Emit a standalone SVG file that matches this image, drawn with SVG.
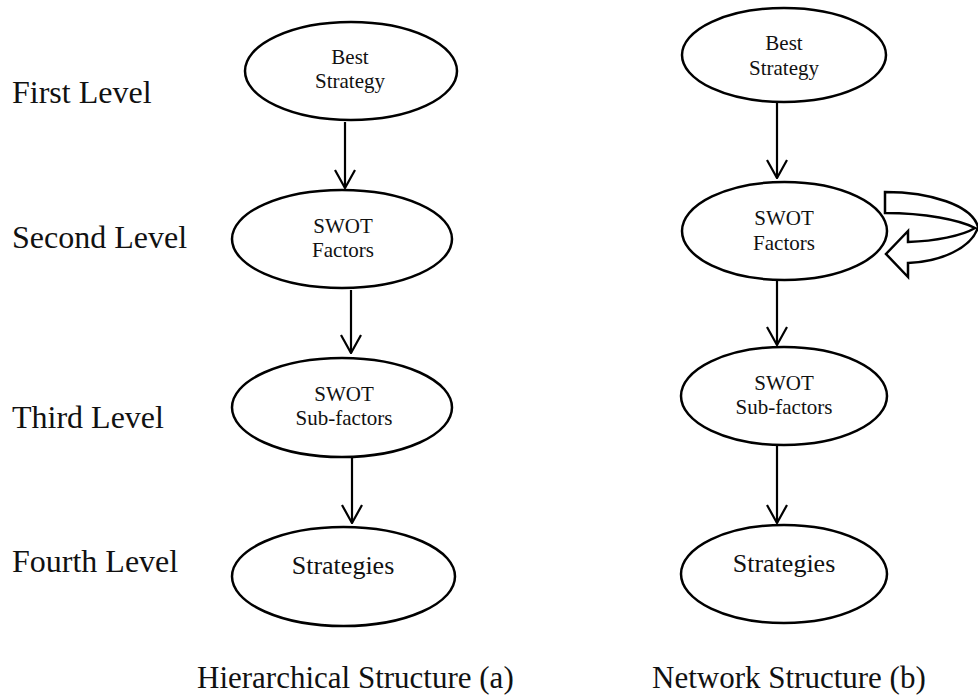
<svg xmlns="http://www.w3.org/2000/svg" width="978" height="698" viewBox="0 0 978 698">
  <defs>
    <marker id="open-head" viewBox="0 0 20 22" refX="19" refY="11" markerWidth="20" markerHeight="22" markerUnits="userSpaceOnUse" orient="auto">
      <path d="M1 1 L19 11 L1 21" fill="none" stroke="#000" stroke-width="2.2"/>
    </marker>
  </defs>
  <style>
    .node ellipse { fill: #fff; stroke: #000; stroke-width: 2.5; }
    .node text { font-family: "Liberation Serif", "Times New Roman", serif; font-size: 21px; text-anchor: middle; fill: #111; }
    .node text.big { font-size: 26px; }
    .level { font-family: "Liberation Serif", "Times New Roman", serif; font-size: 32px; fill: #111; }
    .title { font-family: "Liberation Serif", "Times New Roman", serif; font-size: 31px; fill: #111; }
    .edge { stroke: #000; stroke-width: 2.2; fill: none; marker-end: url(#open-head); }
    .loop { fill: #fff; stroke: #000; stroke-width: 2.5; stroke-linejoin: miter; }
  </style>

  <!-- level labels -->
  <g id="levels">
    <text class="level" x="12" y="103">First Level</text>
    <text class="level" x="12" y="248">Second Level</text>
    <text class="level" x="12" y="428">Third Level</text>
    <text class="level" x="12" y="572">Fourth Level</text>
  </g>

  <!-- hierarchical column -->
  <g id="h-best" class="node">
    <ellipse cx="351" cy="71" rx="106" ry="49"/>
    <text x="350" y="64">Best</text>
    <text x="350" y="88">Strategy</text>
  </g>
  <g id="h-factors" class="node">
    <ellipse cx="342" cy="239" rx="110" ry="49"/>
    <text x="343" y="233">SWOT</text>
    <text x="343" y="257">Factors</text>
  </g>
  <g id="h-subfactors" class="node">
    <ellipse cx="342" cy="407.5" rx="110" ry="49.5"/>
    <text x="344" y="401">SWOT</text>
    <text x="344" y="425">Sub-factors</text>
  </g>
  <g id="h-strategies" class="node">
    <ellipse cx="343.5" cy="576.5" rx="111.5" ry="49.5"/>
    <text class="big" x="343" y="574">Strategies</text>
  </g>

  <!-- network column -->
  <g id="n-best" class="node">
    <ellipse cx="784" cy="55" rx="102" ry="47"/>
    <text x="784" y="50">Best</text>
    <text x="784" y="75">Strategy</text>
  </g>
  <g id="n-factors" class="node">
    <ellipse cx="784.5" cy="231" rx="102.5" ry="49"/>
    <text x="784" y="225">SWOT</text>
    <text x="784" y="250">Factors</text>
  </g>
  <g id="n-subfactors" class="node">
    <ellipse cx="784" cy="396" rx="103" ry="49"/>
    <text x="784" y="390">SWOT</text>
    <text x="784" y="414">Sub-factors</text>
  </g>
  <g id="n-strategies" class="node">
    <ellipse cx="784" cy="574" rx="103" ry="49"/>
    <text class="big" x="784" y="572">Strategies</text>
  </g>

  <!-- connectors -->
  <g id="connectors">
    <line class="edge" x1="345" y1="122" x2="345" y2="188"/>
    <line class="edge" x1="351" y1="290" x2="351" y2="353"/>
    <line class="edge" x1="352" y1="457" x2="352" y2="523"/>
    <line class="edge" x1="777" y1="103" x2="777" y2="178"/>
    <line class="edge" x1="777" y1="281" x2="777" y2="345"/>
    <line class="edge" x1="777" y1="446" x2="777" y2="523"/>
    <!-- feedback loop on the SWOT factors -->
    <path class="loop" d="M885 192 C930 192 972 205 978 227 C972 248 940 262 908 263 L908 277 L886 254 L908 231 L908 242 C935 241 962 236 975 228 C960 220 925 213 885 213 Z"/>
  </g>

  <!-- captions -->
  <g id="captions">
    <text class="title" x="197" y="688">Hierarchical Structure (a)</text>
    <text class="title" x="652" y="688">Network Structure (b)</text>
  </g>
</svg>
